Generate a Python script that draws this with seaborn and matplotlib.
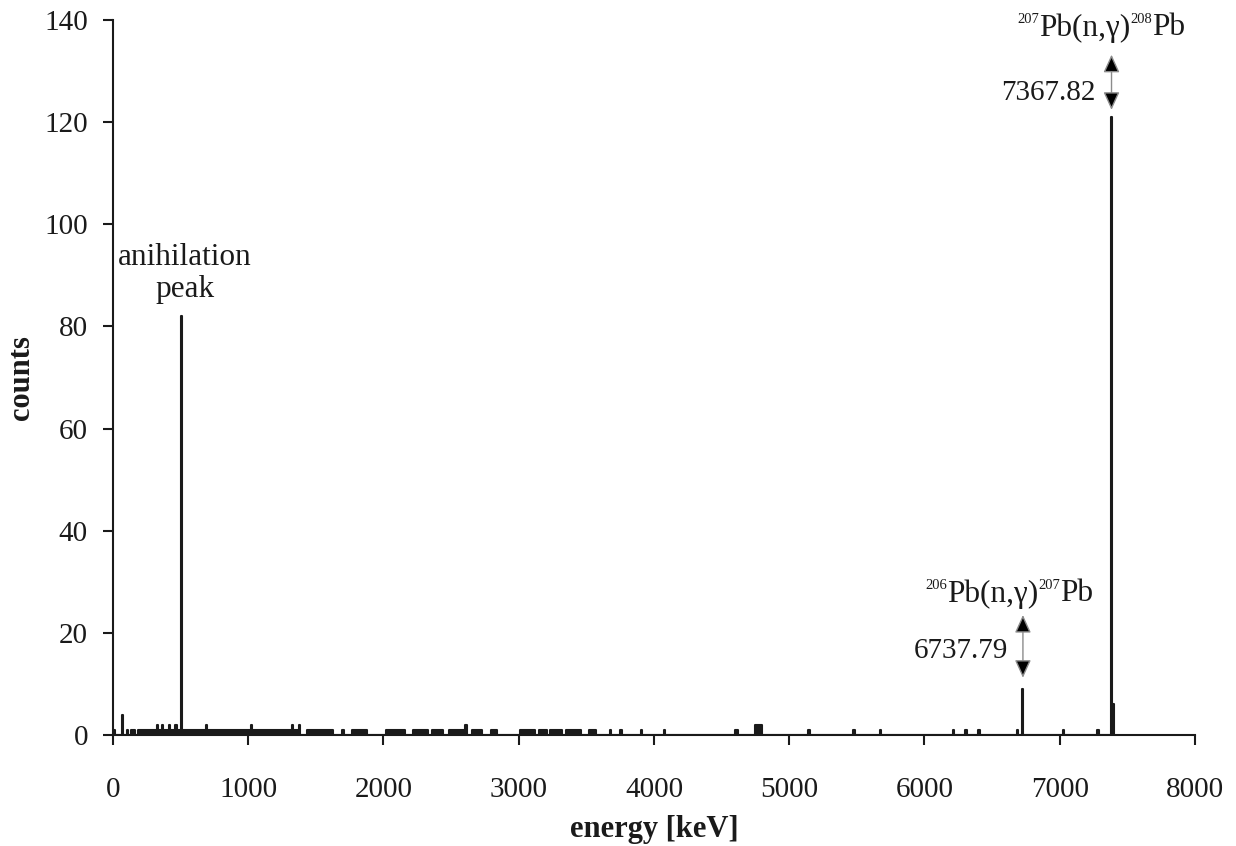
import pandas as pd
import matplotlib
matplotlib.use('Agg')
import matplotlib.pyplot as plt
from matplotlib.offsetbox import TextArea, HPacker, AnnotationBbox
import seaborn as sns

# Spectrum: channel ranges [keV] and the counts in them
seg_start = [8, 65, 106, 130, 185, 322, 332, 360, 368, 414, 422, 462, 470, 506,
             514, 686, 694, 1018, 1026, 1324, 1332, 1378, 1432, 1695, 1767, 2019,
             2218, 2359, 2484, 2602, 2654, 2795, 3009, 3150, 3231, 3349, 3519, 3678,
             3752, 3907, 4077, 4600, 4745, 5142, 5475, 5674, 6214, 6300, 6399, 6687,
             6724, 7027, 7275, 7376, 7386]
seg_end = [16, 73, 114, 165, 322, 332, 360, 368, 414, 422, 462, 470, 506, 514,
           686, 694, 1018, 1026, 1324, 1332, 1378, 1386, 1629, 1705, 1878, 2159,
           2329, 2440, 2602, 2614, 2728, 2839, 3120, 3209, 3320, 3460, 3571, 3686,
           3760, 3915, 4085, 4625, 4800, 5150, 5483, 5682, 6222, 6315, 6407, 6695,
           6732, 7035, 7290, 7386, 7398]
seg_counts = [1, 4, 1, 1, 1, 2, 1, 2, 1, 2, 1, 2, 1, 82,
              1, 2, 1, 2, 1, 2, 1, 2, 1, 1, 1, 1,
              1, 1, 1, 2, 1, 1, 1, 1, 1, 1, 1, 1,
              1, 1, 1, 1, 2, 1, 1, 1, 1, 1, 1, 1,
              9, 1, 1, 121, 6]

x_ticks = [0, 1000, 2000, 3000, 4000, 5000, 6000, 7000, 8000]
y_ticks = [0, 20, 40, 60, 80, 100, 120, 140]

INK = '#1a1a1a'

sns.set_style('ticks')
plt.rcParams['font.family'] = ['Liberation Serif', 'DejaVu Serif']

# turn the channel ranges into an outline trace
rows = []
for lo, hi, c in zip(seg_start, seg_end, seg_counts):
    rows += [(lo, 0), (lo, c), (hi, c), (hi, 0)]
trace = pd.DataFrame(rows, columns=['energy', 'counts'])

fig = plt.figure(figsize=(12.36, 8.46), dpi=100)
ax = fig.add_axes([0.0914, 0.1312, 0.8754, 0.8452])

ax.fill_between(trace['energy'], trace['counts'], color=INK, lw=0)
sns.lineplot(data=trace, x='energy', y='counts', sort=False, estimator=None,
             color=INK, lw=1.5, ax=ax)

ax.set_xlim(0, 8000)
ax.set_ylim(0, 140)
ax.set_xticks(x_ticks)
ax.set_yticks(y_ticks)
sns.despine(ax=ax)
for s in ['left', 'bottom']:
    ax.spines[s].set_linewidth(1.5)
    ax.spines[s].set_color(INK)
ax.tick_params(axis='both', direction='out', length=7, width=1.5, colors=INK,
               labelsize=21, labelcolor=INK)
ax.tick_params(axis='x', pad=23)
ax.tick_params(axis='y', pad=11)

ax.set_xlabel('energy [keV]', fontsize=22, fontweight='bold', labelpad=9, color=INK)
ax.set_ylabel('counts', fontsize=22, fontweight='bold', labelpad=6, color=INK)

# annotations
ax.text(532, 85.7, 'anihilation\npeak', ha='center', va='baseline', fontsize=22.5,
        linespacing=1.15, color=INK)

arrow = dict(arrowstyle='<|-|>,head_length=0.55,head_width=0.25', mutation_scale=20,
             ec='#8c8c8c', fc='black', lw=1, shrinkA=0, shrinkB=0)
ax.annotate('', xy=(7383, 122.4), xytext=(7383, 133.2), arrowprops=arrow)
ax.annotate('', xy=(6728, 11.2), xytext=(6728, 23.5), arrowprops=arrow)


def reaction(x, y, mass_in, mass_out):
    big = dict(size=22.5, color=INK)
    small = dict(size=10.5, color=INK)
    parts = [TextArea(mass_in, textprops=small), TextArea('Pb(n,γ)', textprops=big),
             TextArea(mass_out, textprops=small), TextArea('Pb', textprops=big)]
    box = HPacker(children=parts, align='top', pad=0, sep=0)
    ab = AnnotationBbox(box, (x, y), xycoords='data', box_alignment=(0.5, 0),
                        frameon=False, pad=0, annotation_clip=False)
    ax.add_artist(ab)


reaction(7308, 135.5, '207', '208')
reaction(6630, 24.7, '206', '207')

ax.text(7261, 124.3, '7367.82', ha='right', va='baseline', fontsize=21, color=INK)
ax.text(6617, 15.1, '6737.79', ha='right', va='baseline', fontsize=21, color=INK)

fig.savefig('out.png', dpi=100)
